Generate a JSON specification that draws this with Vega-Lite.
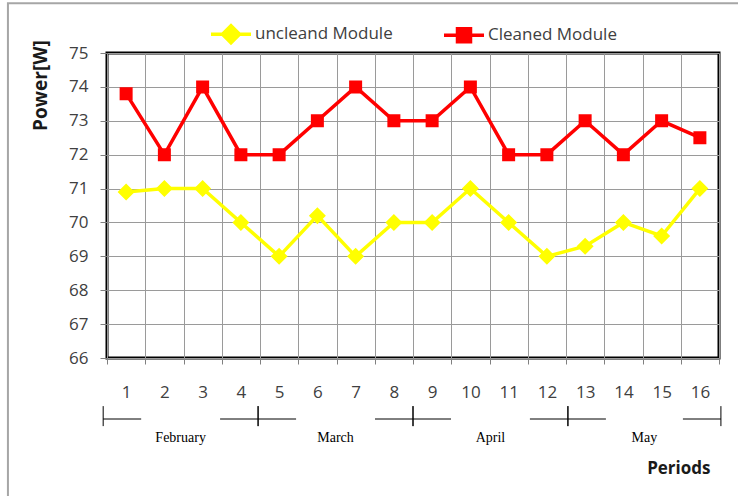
{
  "$schema": "https://vega.github.io/schema/vega-lite/v6.json",
  "width": 612,
  "height": 305,
  "autosize": {"type": "none"},
  "padding": {"left": 107, "top": 53, "right": 19, "bottom": 138},
  "background": "#ffffff",
  "config": {
    "view": {"stroke": "#000000", "strokeWidth": 3},
    "font": "Open Sans",
    "legend": {
      "orient": "none", "legendX": 102, "legendY": -41, "direction": "horizontal", "title": null,
      "symbolSize": 1600, "symbolStrokeWidth": 3.5, "labelFont": "Open Sans", "labelFontSize": 17,
      "labelColor": "#404040", "labelOffset": 2, "columnPadding": 44, "padding": 0
    }
  },
  "datasets": {
    "power": [
      {"period": 1, "series": "uncleand Module", "power": 70.9},
      {"period": 2, "series": "uncleand Module", "power": 71.0},
      {"period": 3, "series": "uncleand Module", "power": 71.0},
      {"period": 4, "series": "uncleand Module", "power": 70.0},
      {"period": 5, "series": "uncleand Module", "power": 69.0},
      {"period": 6, "series": "uncleand Module", "power": 70.2},
      {"period": 7, "series": "uncleand Module", "power": 69.0},
      {"period": 8, "series": "uncleand Module", "power": 70.0},
      {"period": 9, "series": "uncleand Module", "power": 70.0},
      {"period": 10, "series": "uncleand Module", "power": 71.0},
      {"period": 11, "series": "uncleand Module", "power": 70.0},
      {"period": 12, "series": "uncleand Module", "power": 69.0},
      {"period": 13, "series": "uncleand Module", "power": 69.3},
      {"period": 14, "series": "uncleand Module", "power": 70.0},
      {"period": 15, "series": "uncleand Module", "power": 69.6},
      {"period": 16, "series": "uncleand Module", "power": 71.0},
      {"period": 1, "series": "Cleaned Module", "power": 73.8},
      {"period": 2, "series": "Cleaned Module", "power": 72.0},
      {"period": 3, "series": "Cleaned Module", "power": 74.0},
      {"period": 4, "series": "Cleaned Module", "power": 72.0},
      {"period": 5, "series": "Cleaned Module", "power": 72.0},
      {"period": 6, "series": "Cleaned Module", "power": 73.0},
      {"period": 7, "series": "Cleaned Module", "power": 74.0},
      {"period": 8, "series": "Cleaned Module", "power": 73.0},
      {"period": 9, "series": "Cleaned Module", "power": 73.0},
      {"period": 10, "series": "Cleaned Module", "power": 74.0},
      {"period": 11, "series": "Cleaned Module", "power": 72.0},
      {"period": 12, "series": "Cleaned Module", "power": 72.0},
      {"period": 13, "series": "Cleaned Module", "power": 73.0},
      {"period": 14, "series": "Cleaned Module", "power": 72.0},
      {"period": 15, "series": "Cleaned Module", "power": 73.0},
      {"period": 16, "series": "Cleaned Module", "power": 72.5}
    ],
    "months": [
      {"month": "February", "start": 0.4, "end": 4.45},
      {"month": "March", "start": 4.45, "end": 8.5},
      {"month": "April", "start": 8.5, "end": 12.55},
      {"month": "May", "start": 12.55, "end": 16.55}
    ]
  },
  "layer": [
    {
      "data": {"values": [{"frame": "outer"}]},
      "mark": {"type": "rect", "fillOpacity": 0, "stroke": "#a6a6a6", "strokeWidth": 2, "clip": false},
      "encoding": {
        "x": {"datum": -2.09, "type": "quantitative", "scale": {"domain": [0.5, 16.5], "nice": false, "zero": false}, "axis": null},
        "x2": {"datum": 17.8},
        "y": {"datum": 76.47, "type": "quantitative", "scale": {"domain": [66, 75], "nice": false, "zero": false}, "axis": null},
        "y2": {"datum": 60}
      }
    },
    {
      "data": {"name": "power"},
      "mark": {"type": "line", "strokeWidth": 3.5},
      "encoding": {
        "x": {
          "field": "period", "type": "quantitative",
          "scale": {"domain": [0.5, 16.5], "nice": false, "zero": false},
          "axis": {
            "orient": "bottom",
            "values": [0.5, 1.5, 2.5, 3.5, 4.5, 5.5, 6.5, 7.5, 8.5, 9.5, 10.5, 11.5, 12.5, 13.5, 14.5, 15.5, 16.5],
            "labels": false, "domain": false, "grid": true, "gridColor": "#9a9a9a", "gridWidth": 1,
            "ticks": true, "tickSize": 6, "tickColor": "#808080", "title": null
          }
        },
        "y": {
          "field": "power", "type": "quantitative",
          "scale": {"domain": [66, 75], "nice": false, "zero": false},
          "axis": {
            "orient": "left",
            "values": [66, 67, 68, 69, 70, 71, 72, 73, 74, 75],
            "domain": false, "grid": true, "gridColor": "#9a9a9a", "gridWidth": 1,
            "ticks": true, "tickSize": 7, "tickColor": "#808080",
            "labelFont": "Open Sans", "labelFontSize": 17, "labelColor": "#404040", "labelPadding": 12,
            "title": "Power[W]", "titleFont": "Open Sans", "titleFontSize": 19, "titleFontWeight": "bold",
            "titleColor": "#1a1a1a", "titleX": -67, "titleY": 32, "titleAngle": -90,
            "titleAlign": "center", "titleBaseline": "middle"
          }
        },
        "color": {
          "field": "series", "type": "nominal",
          "scale": {"domain": ["uncleand Module", "Cleaned Module"], "range": ["#ffff00", "#ff0000"]}
        }
      }
    },
    {
      "data": {"name": "power"},
      "mark": {"type": "point", "filled": true, "opacity": 1, "size": 1600},
      "encoding": {
        "x": {
          "field": "period", "type": "quantitative",
          "scale": {"domain": [0.5, 16.5], "nice": false, "zero": false},
          "axis": {
            "orient": "bottom",
            "values": [1, 2, 3, 4, 5, 6, 7, 8, 9, 10, 11, 12, 13, 14, 15, 16],
            "domain": false, "grid": false, "ticks": false, "tickSize": 0,
            "labelFont": "Open Sans", "labelFontSize": 17, "labelColor": "#404040", "labelPadding": 26,
            "title": "Periods", "titleFont": "Open Sans", "titleFontSize": 17, "titleFontWeight": "bold",
            "titleColor": "#1a1a1a", "titleX": 603, "titleY": 110, "titleAlign": "right", "titleBaseline": "middle"
          }
        },
        "y": {"field": "power", "type": "quantitative", "scale": {"domain": [66, 75], "nice": false, "zero": false}, "axis": null},
        "color": {
          "field": "series", "type": "nominal",
          "scale": {"domain": ["uncleand Module", "Cleaned Module"], "range": ["#ffff00", "#ff0000"]},
          "legend": {
            "encode": {
              "symbols": {
                "shape": {"signal": "datum.value === 'Cleaned Module' ? 'M-1,0H1M-0.24,-0.24H0.24V0.24H-0.24Z' : 'M-1,0H1M0,-0.33L0.33,0L0,0.33L-0.33,0Z'"},
                "fill": {"signal": "datum.value === 'Cleaned Module' ? '#ff0000' : '#ffff00'"},
                "stroke": {"signal": "datum.value === 'Cleaned Module' ? '#ff0000' : '#ffff00'"},
                "strokeWidth": {"value": 3.5},
                "size": {"value": 1600},
                "opacity": {"value": 1},
                "fillOpacity": {"value": 1},
                "strokeOpacity": {"value": 1}
              }
            }
          }
        },
        "shape": {
          "field": "series", "type": "nominal",
          "scale": {
            "domain": ["uncleand Module", "Cleaned Module"],
            "range": ["M-1,0H1M0,-0.425L0.425,0L0,0.425L-0.425,0Z", "M-1,0H1M-0.325,-0.325H0.325V0.325H-0.325Z"]
          }
        }
      }
    },
    {
      "data": {"name": "months"},
      "mark": {"type": "rule", "color": "#000000", "strokeWidth": 1},
      "encoding": {
        "x": {"field": "start", "type": "quantitative", "scale": {"domain": [0.5, 16.5], "nice": false, "zero": false}, "axis": null},
        "y": {"datum": 64.58, "type": "quantitative", "scale": {"domain": [66, 75], "nice": false, "zero": false}, "axis": null},
        "y2": {"datum": 63.99}
      }
    },
    {
      "data": {"name": "months"},
      "mark": {"type": "rule", "color": "#000000", "strokeWidth": 1},
      "encoding": {
        "x": {"field": "end", "type": "quantitative", "scale": {"domain": [0.5, 16.5], "nice": false, "zero": false}, "axis": null},
        "y": {"datum": 64.58, "type": "quantitative", "scale": {"domain": [66, 75], "nice": false, "zero": false}, "axis": null},
        "y2": {"datum": 63.99}
      }
    },
    {
      "data": {"name": "months"},
      "mark": {"type": "rule", "color": "#000000", "strokeWidth": 1, "x2Offset": 38},
      "encoding": {
        "x": {"field": "start", "type": "quantitative", "scale": {"domain": [0.5, 16.5], "nice": false, "zero": false}, "axis": null},
        "x2": {"field": "start"},
        "y": {"datum": 64.2, "type": "quantitative", "scale": {"domain": [66, 75], "nice": false, "zero": false}, "axis": null}
      }
    },
    {
      "data": {"name": "months"},
      "mark": {"type": "rule", "color": "#000000", "strokeWidth": 1, "xOffset": -38},
      "encoding": {
        "x": {"field": "end", "type": "quantitative", "scale": {"domain": [0.5, 16.5], "nice": false, "zero": false}, "axis": null},
        "x2": {"field": "end"},
        "y": {"datum": 64.2, "type": "quantitative", "scale": {"domain": [66, 75], "nice": false, "zero": false}, "axis": null}
      }
    },
    {
      "data": {"name": "months"},
      "transform": [{"calculate": "(datum.start + datum.end) / 2", "as": "mid"}],
      "mark": {"type": "text", "font": "Liberation Serif", "fontSize": 14, "color": "#000000", "baseline": "middle", "align": "center"},
      "encoding": {
        "x": {"field": "mid", "type": "quantitative", "scale": {"domain": [0.5, 16.5], "nice": false, "zero": false}, "axis": null},
        "y": {"datum": 63.65, "type": "quantitative", "scale": {"domain": [66, 75], "nice": false, "zero": false}, "axis": null},
        "text": {"field": "month", "type": "nominal"}
      }
    }
  ],
  "resolve": {"axis": {"x": "independent", "y": "independent"}}
}
